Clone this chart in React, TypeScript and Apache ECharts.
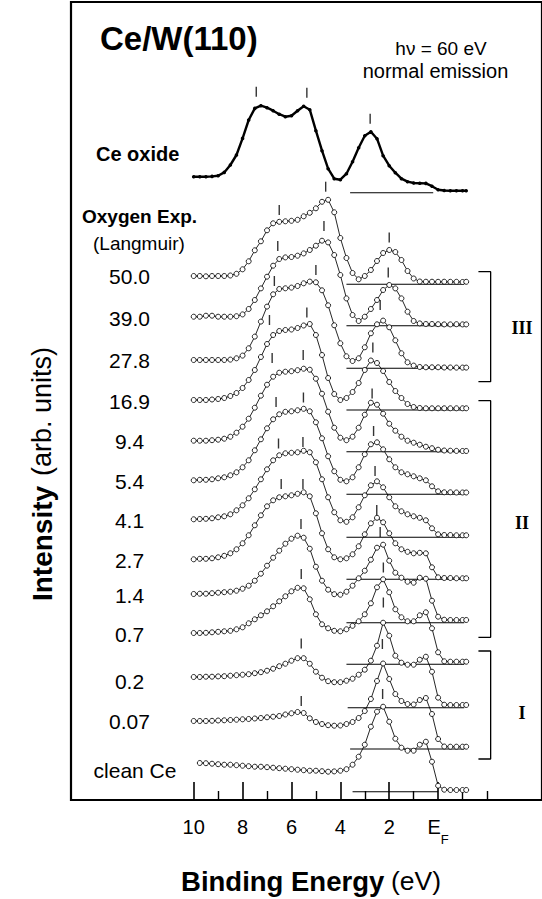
import { useEffect, useRef } from 'react';
import * as echarts from 'echarts';

// Binding energies (eV) of the sampled points, shared by all spectra
const energies = [10, 9.75, 9.5, 9.25, 9, 8.75, 8.5, 8.25, 8, 7.75, 7.5, 7.25, 7, 6.75, 6.5, 6.25, 6, 5.75, 5.5, 5.25, 5, 4.75, 4.5, 4.25, 4, 3.75, 3.5, 3.25, 3, 2.75, 2.5, 2.25, 2, 1.75, 1.5, 1.25, 1, 0.75, 0.5, 0.25, 0, -0.25, -0.5, -0.75, -1, -1.15];

// Intensities (arb. units) relative to each spectrum's zero line
const ceOxide = [16, 16, 16, 16.3, 17, 20.3, 27.7, 37.7, 54.3, 72.7, 84.3, 87, 85, 82, 78.5, 76, 77, 82, 86.5, 83, 62, 42, 24, 14, 13, 19, 31, 45, 57, 61, 54, 37, 27, 20, 14, 11, 9.7, 9.5, 9.3, 6.5, 3, 2.2, 2, 2, 2, 2];
const dose50_0 = [8.3, 8.3, 8, 8.3, 8.3, 8.3, 8.8, 10.5, 15, 23, 34, 43, 54, 61, 62.5, 63, 63.5, 64.5, 68, 71.5, 76, 82.5, 84.5, 72, 46.3, 26.3, 11.3, 5, 8.3, 14.3, 23.3, 31.3, 34.3, 32.3, 24.3, 13.3, 5.8, 2.8, 2.6, 2.6, 2.5, 2.6, 2.5, 2.5, 2.3, 2.5];
const dose39_0 = [9, 9, 10, 10, 9, 9, 9, 9.5, 11.3, 16.7, 25.7, 37.3, 49, 60, 66.7, 68.3, 68.7, 70, 72.3, 75.7, 80, 85, 83.3, 70.7, 50.7, 27.3, 10.7, 4.7, 9, 16.7, 25.7, 35.7, 40.7, 37.3, 27.3, 14, 4.7, 2.3, 1.7, 1.7, 1.5, 1.3, 1.3, 1.5, 1.3, 1.3];
const dose27_8 = [8.3, 8.3, 8.3, 8.3, 8.3, 8.3, 8.7, 10, 12.7, 20, 31.7, 46.7, 61.7, 74, 79.3, 80, 80.7, 82.3, 85, 86.7, 86, 78, 63, 43, 25, 12, 7.3, 10, 21, 35, 44, 47.7, 41, 28, 15, 6, 2.7, 1.3, 1, 1, 1, 0.8, 0.8, 0.7, 0.7, 0.7];
const dose16_9 = [10, 10, 10, 10.5, 11, 12, 14, 17, 22, 30, 40, 53, 66, 75, 79, 80, 80.5, 82, 84.5, 86, 75, 55, 32, 16, 10, 12, 18, 27, 40, 49.5, 47, 39, 28, 19, 12, 6, 3, 2, 1.7, 1.7, 1.7, 1.7, 1.7, 1.7, 1.7, 1.7];
const dose9_4 = [11, 11, 11, 11.5, 12, 13, 15, 19, 25, 33, 44, 56, 67, 75, 79, 80, 80.5, 81.5, 83, 82, 73, 58, 40, 24, 14, 11.5, 15, 24, 37, 49, 47, 38, 28, 21, 15, 11, 9, 7, 5, 3.5, 2, 1.2, 1, 0.8, 0.7, 0.7];
const dose5_4 = [14, 14.5, 14.5, 15, 16, 17, 19, 22, 27, 34, 44, 55, 66, 75, 80, 82.5, 83, 84, 85.5, 83, 72, 56, 38, 23, 14.5, 13, 17, 27, 40, 50, 52, 45, 35, 27, 22, 20, 18, 16, 14, 8, 3, 2, 2, 1.8, 1.8, 1.8];
const dose4_1 = [18, 18.3, 18.5, 19, 20, 21, 23, 27, 32, 39, 48, 58, 68, 77, 82, 84, 84.5, 85, 86.5, 85, 75, 58, 40, 25, 17, 15.5, 20, 30, 42, 52, 56, 50, 40, 31, 26, 23, 21, 19.5, 17, 9, 3, 2.3, 2.3, 2, 2, 2];
const dose2_7 = [20, 20.5, 20.5, 21, 22, 23.5, 26, 30, 36, 44, 54, 64, 73, 79, 82, 83, 84, 85.5, 87, 83, 66, 46, 30, 22, 20, 21, 25, 33, 45, 56, 61.5, 57, 46, 36, 30, 27.5, 26, 26.5, 26, 12, 2, 1.3, 1.3, 1, 1, 1];
const dose1_4 = [28.7, 29, 29, 29.5, 30, 30.5, 31, 32, 34, 37, 42, 49, 57, 65, 72, 79, 84, 87, 85, 74, 56, 42, 33, 28.5, 28, 31, 37, 44.4, 52, 63, 75, 78, 62, 50, 45, 41, 40, 45, 44, 22, 6, 3, 2.7, 2.7, 2.7, 2.7];
const dose0_7 = [31.3, 31.3, 31.5, 32, 32.5, 33, 33.5, 35, 37, 41, 45, 49, 53, 58, 63, 68, 73, 76.5, 76, 65, 50, 40, 36, 33.5, 33, 35, 38.5, 43, 50, 61, 77, 85, 72, 55, 47, 43, 43, 49, 52, 36, 12, 3, 2.6, 2.6, 2.6, 2.6];
const dose0_2 = [30.7, 30.7, 31, 31, 31.3, 31.5, 32, 32.5, 33, 33.5, 34.5, 35.5, 37, 39, 41.5, 44, 47, 49.5, 49.5, 44, 36, 30, 26.5, 25.5, 25.5, 27, 29, 33, 38, 47, 62, 85, 72, 52, 45, 43, 43, 48, 51, 36, 10, 3, 2.7, 2.7, 2.7, 2.7];
const dose0_07 = [28, 28, 28, 28.2, 28.5, 28.7, 29, 29.3, 29.7, 30, 30.5, 31, 31.7, 32.3, 33, 34.5, 35.7, 37, 36, 30.7, 27, 25, 23.8, 23.3, 23.5, 25, 27, 31, 38, 50, 68, 85.5, 70, 55, 48, 45, 44.5, 49, 51, 35, 10, 2.5, 2.3, 2.3, 2.3, 2.3];
const cleanCe = [null, 28.7, 28.5, 28, 27.5, 27, 27, 26.5, 26, 25.5, 25, 25, 24.5, 24, 23.5, 23, 22.5, 22, 21.5, 21, 21, 20.5, 20, 20.3, 21, 22.5, 27, 35, 47, 65, 80, 85, 70, 53, 44, 41, 41, 47, 50, 30, 6, 2, 1.7, 1.7, 1.7, 1.7];

const doseLabels = ['50.0', '39.0', '27.8', '16.9', '9.4', '5.4', '4.1', '2.7', '1.4', '0.7', '0.2', '0.07', 'clean Ce'];
const spectra = [dose50_0, dose39_0, dose27_8, dose16_9, dose9_4, dose5_4, dose4_1, dose2_7, dose1_4, dose0_7, dose0_2, dose0_07, cleanCe];

// vertical offsets (zero line of each spectrum)
const oxideLevel = 607.3;
const spectrumLevels = [515.7, 474.3, 431.7, 390, 348.3, 305.7, 262.7, 220.7, 177.3, 135.7, 92.3, 51, 8.3];

// zero-line spans [from eV, to eV]
const oxideLineSpan = [3.6, 0.2];
const lineSpans = [[3.75, -1.07], [3.75, -1.07], [3.75, -1.07], [3.75, -1.07], [3.75, -1.07], [3.75, -1.07], [3.75, -1.07], [3.75, -1.07], [3.75, -1.07], [3.75, -1.07], [3.7, -1.07], [3.6, -1.07], [3.5, 0]];

// peak markers [eV, height above zero line]
const oxideTicks = [[7.44, 101], [5.37, 100], [2.78, 74]];
const spectrumTicks = [
  [[6.5, 74.3], [4.6, 97.6], [2.0, 46.8]],
  [[6.56, 79.7], [4.67, 99.7], [2.04, 53.2]],
  [[6.7, 87.3], [5.0, 98.3], [2.37, 63.3]],
  [[6.9, 90], [5.37, 97.5], [2.67, 62.5]],
  [[6.79, 93.7], [5.52, 96.7], [2.7, 58.2]],
  [[6.63, 92.3], [5.51, 96.8], [2.64, 63.3]],
  [[6.53, 93.8], [5.53, 95.3], [2.58, 66.3]],
  [[6.42, 95.3], [5.53, 95.3], [2.51, 69.3]],
  [[5.61, 98.7], [2.37, 90.7]],
  [[5.6, 90.3], [2.24, 96.8]],
  [[5.6, 64.2], [2.24, 105.2]],
  [[5.6, 48], [2.28, 105]],
  [[2.27, 97.7]],
];

// regime brackets
const bracketLabels = ['III', 'II', 'I'];
const bracketLevels = [[528.3, 418.3], [399.3, 162.7], [149, 41]];
const bracketE = [-1.65, -2.15];

const majorTicks = [10, 8, 6, 4, 2, 0];
const minorTicks = [9, 7, 5, 3, 1, -1, -2];

const FONT = '"Liberation Sans", Arial, Helvetica, sans-serif';
const SERIF = '"Liberation Serif", "Times New Roman", serif';

export default function App() {
  const ref = useRef<HTMLDivElement>(null);
  useEffect(() => {
    if (!ref.current) return;
    const chart = echarts.init(ref.current, undefined, { renderer: 'svg' });
    const series: any[] = [];

    // zero lines
    series.push({
      type: 'line', silent: true, symbol: 'none', z: 1,
      lineStyle: { color: '#000', width: 1.1 },
      data: [[oxideLineSpan[0], oxideLevel], [oxideLineSpan[1], oxideLevel]],
    });
    lineSpans.forEach((span, k) => {
      series.push({
        type: 'line', silent: true, symbol: 'none', z: 1,
        lineStyle: { color: '#000', width: 1.1 },
        data: [[span[0], spectrumLevels[k]], [span[1], spectrumLevels[k]]],
      });
    });

    // Ce oxide spectrum
    series.push({
      type: 'line', silent: true, z: 3,
      symbol: 'circle', symbolSize: 3.6, showSymbol: true,
      itemStyle: { color: '#000' },
      lineStyle: { color: '#000', width: 2.4 },
      data: energies.map((e, i) => [e, oxideLevel + ceOxide[i]]),
    });

    // oxygen exposure spectra
    spectra.forEach((arr, k) => {
      const data: any[] = [];
      energies.forEach((e, i) => {
        const v = arr[i];
        if (v !== null && v !== undefined) data.push([e, spectrumLevels[k] + v]);
      });
      series.push({
        type: 'line', silent: true, z: 3 + k,
        symbol: 'circle', symbolSize: 5, showSymbol: true,
        itemStyle: { color: '#fff', borderColor: '#000', borderWidth: 0.85 },
        lineStyle: { color: '#000', width: 0.85 },
        data,
      });
    });

    // peak markers
    const tickData: any[] = oxideTicks.map((t) => [t[0], oxideLevel + t[1]]);
    spectrumTicks.forEach((list, k) => list.forEach((t) => tickData.push([t[0], spectrumLevels[k] + t[1]])));
    series.push({
      type: 'scatter', silent: true, z: 30,
      symbol: 'rect', symbolSize: [1.4, 10],
      itemStyle: { color: '#000' },
      data: tickData,
    });

    // brackets
    bracketLevels.forEach((lv) => {
      series.push({
        type: 'line', silent: true, symbol: 'none', z: 2,
        lineStyle: { color: '#000', width: 1.3 },
        data: [[bracketE[0], lv[0]], [bracketE[1], lv[0]], [bracketE[1], lv[1]], [bracketE[0], lv[1]]],
      });
    });

    const labelY = [276, 318.3, 360, 401, 441, 481.7, 520, 560, 595, 634, 681.7, 721.7, 770];
    const romanY = [327.5, 522.5, 712.5];

    const graphic: any[] = [
      { type: 'text', x: 100, y: 38, style: { text: 'Ce/W(110)', fontSize: 33, fontWeight: 'bold', fontFamily: FONT, fill: '#000', textAlign: 'left', textVerticalAlign: 'middle', align: 'left', verticalAlign: 'middle' } },
      { type: 'text', x: 441, y: 48, style: { text: 'h\u03bd = 60 eV', fontSize: 19, fontFamily: FONT, fill: '#000', textAlign: 'center', textVerticalAlign: 'middle', align: 'center', verticalAlign: 'middle' } },
      { type: 'text', x: 435.5, y: 71, style: { text: 'normal emission', fontSize: 20, fontFamily: FONT, fill: '#000', textAlign: 'center', textVerticalAlign: 'middle', align: 'center', verticalAlign: 'middle' } },
      { type: 'text', x: 96, y: 154, style: { text: 'Ce oxide', fontSize: 20, fontWeight: 'bold', fontFamily: FONT, fill: '#000', textAlign: 'left', textVerticalAlign: 'middle', align: 'left', verticalAlign: 'middle' } },
      { type: 'text', x: 82, y: 216, style: { text: 'Oxygen Exp.', fontSize: 19, fontWeight: 'bold', fontFamily: FONT, fill: '#000', textAlign: 'left', textVerticalAlign: 'middle', align: 'left', verticalAlign: 'middle' } },
      { type: 'text', x: 93, y: 243, style: { text: '(Langmuir)', fontSize: 19, fontFamily: FONT, fill: '#000', textAlign: 'left', textVerticalAlign: 'middle', align: 'left', verticalAlign: 'middle' } },
      { type: 'text', x: 311, y: 881, style: { text: '{b|Binding Energy}  {r|(eV)}', fill: '#000', textAlign: 'center', textVerticalAlign: 'middle', align: 'center', verticalAlign: 'middle', rich: { b: { fontSize: 27.5, fontWeight: 'bold', fontFamily: FONT, fill: '#000' }, r: { fontSize: 26.5, fontFamily: FONT, fill: '#000' } } } },
      { type: 'text', x: 42, y: 474, rotation: Math.PI / 2, style: { text: '{b|Intensity}   {r|(arb. units)}', fill: '#000', textAlign: 'center', textVerticalAlign: 'middle', align: 'center', verticalAlign: 'middle', rich: { b: { fontSize: 28, fontWeight: 'bold', fontFamily: FONT, fill: '#000' }, r: { fontSize: 27, fontFamily: FONT, fill: '#000' } } } },
    ];
    doseLabels.forEach((t, k) => {
      graphic.push({ type: 'text', x: k === doseLabels.length - 1 ? 135 : 129.5, y: labelY[k], style: { text: t, fontSize: 21, fontFamily: FONT, fill: '#000', textAlign: 'center', textVerticalAlign: 'middle', align: 'center', verticalAlign: 'middle' } });
    });
    bracketLabels.forEach((t, k) => {
      graphic.push({ type: 'text', x: 522, y: romanY[k], style: { text: t, fontSize: 18, fontWeight: 'bold', fontFamily: SERIF, fill: '#000', textAlign: 'center', textVerticalAlign: 'middle', align: 'center', verticalAlign: 'middle' } });
    });

    const option: any = {
      animation: false,
      backgroundColor: '#fff',
      grid: { left: 71, top: 2, right: -5, bottom: 99, show: true, borderColor: '#000', borderWidth: 2.2 },
      xAxis: [
        {
          type: 'value', min: -4.251, max: 15.02, inverse: true, position: 'bottom',
          axisLine: { show: false }, splitLine: { show: false },
          axisTick: { show: true, inside: true, length: 18, lineStyle: { color: '#000', width: 1.6 }, customValues: majorTicks },
          axisLabel: {
            show: true, customValues: majorTicks, margin: 17, color: '#000', fontSize: 20, fontFamily: FONT,
            formatter: (v: number) => (v === 0 ? '{e|E}{f|F}' : String(v)),
            rich: {
              e: { fontSize: 20, fontFamily: FONT, color: '#000', padding: [0, 0, 9, 0] },
              f: { fontSize: 13, fontFamily: FONT, color: '#000', padding: [16, 0, 0, 0] },
            },
          },
        },
        {
          type: 'value', min: -4.251, max: 15.02, inverse: true, position: 'bottom',
          axisLine: { show: false }, splitLine: { show: false }, axisLabel: { show: false },
          axisTick: { show: true, inside: true, length: 9, lineStyle: { color: '#000', width: 1.4 }, customValues: minorTicks },
        },
      ],
      yAxis: { type: 'value', min: 0, max: 798, show: false },
      series,
      graphic,
    };
    chart.setOption(option);
    return () => chart.dispose();
  }, []);
  return <div ref={ref} style={{ position: 'absolute', left: 0, top: 0, width: 542, height: 899, background: '#fff' }} />;
}
